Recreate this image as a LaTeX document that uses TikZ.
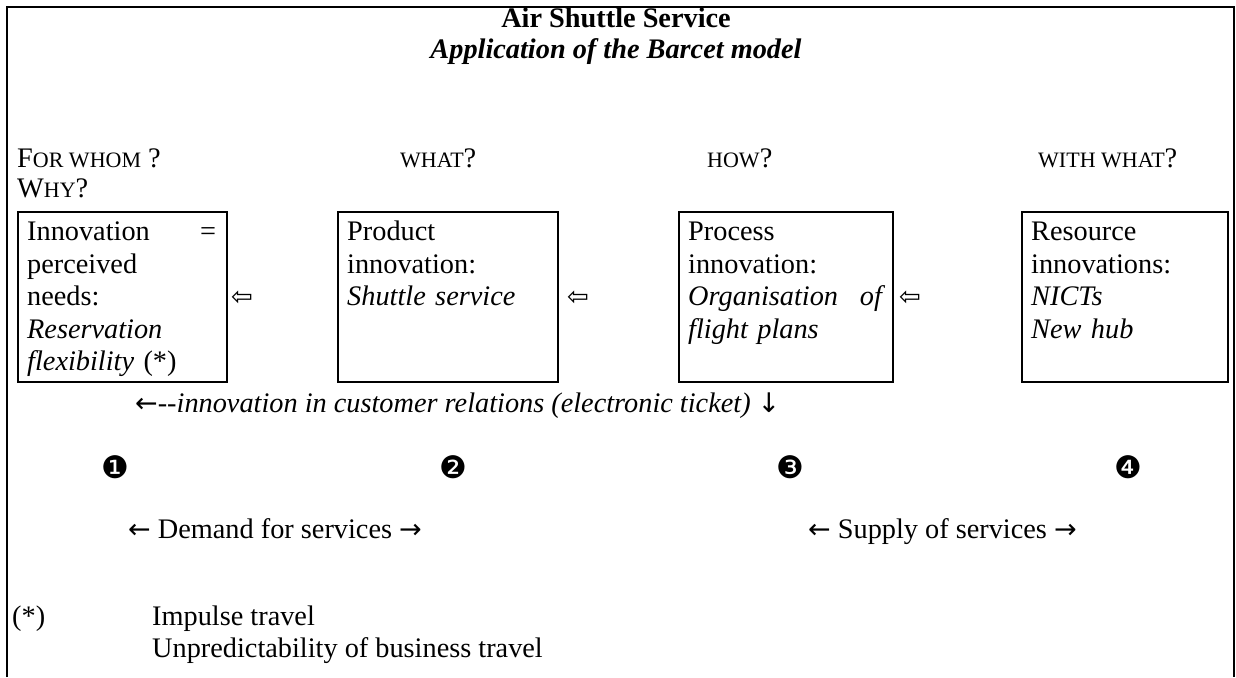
\documentclass[tikz,border=0pt]{standalone}
\usepackage{fontspec}
\setmainfont{Liberation Serif}
\newfontfamily\dejavu{DejaVu Sans}
\newcommand\sck[1]{{\fontsize{22}{26}\selectfont #1}}
\newcommand\arw[1]{{\dejavu\fontsize{27}{30}\selectfont #1}}
\begin{document}
\begin{tikzpicture}[x=1pt,y=-1pt,
  txt/.style={inner sep=0pt, anchor=base west, font=\fontsize{28.3}{32.5}\selectfont},
  multi/.style={inner sep=0pt, anchor=north west, align=left, text width=#1, font=\fontsize{28.3}{32.5}\selectfont},
  box/.style={draw, line width=1.6pt, anchor=north west, minimum width=#1, minimum height=170pt, inner sep=0pt},
  hollow/.style={inner sep=0pt, anchor=center, font=\dejavu\fontsize{26}{30}\selectfont},
  num/.style={inner sep=0pt, anchor=center, font=\dejavu\fontsize{31}{34}\selectfont}]
\useasboundingbox (0,0) rectangle (1236,677);
% frame
\draw[line width=2pt] (7,677) -- (7,7) -- (1234,7) -- (1234,677);
% title
\node[inner sep=0pt, anchor=base, font=\fontsize{28.3}{32.5}\selectfont\bfseries] (title) at (616,28) {Air Shuttle Service};
\node[inner sep=0pt, anchor=base, font=\fontsize{28.3}{32.5}\selectfont\bfseries\itshape] (subtitle) at (616,59) {Application of the Barcet model};
% headers
\node[txt] (h1) at (17,167) {F\sck{OR WHOM} ?};
\node[txt] (h1b) at (17,197) {W\sck{HY}?};
\node[txt] (h2) at (400,167) {\sck{WHAT}?};
\node[txt] (h3) at (707,167) {\sck{HOW}?};
\node[txt] (h4) at (1038,167) {\sck{WITH WHAT}?};
% boxes
\node[box=209pt] (b1) at (17,211) {};
\node[box=220pt] (b2) at (337,211) {};
\node[box=214pt] (b3) at (678,211) {};
\node[box=206pt] (b4) at (1021,211) {};
\node[multi=200pt] (t1) at (27,218) {\strut\makebox[189pt][s]{Innovation\hfill=}\\perceived\\needs:\\\textit{Reservation}\\\textit{flexibility} (*)};
\node[multi=205pt] (t2) at (347,218) {\strut Product\\innovation:\\\textit{Shuttle service}};
\node[multi=200pt] (t3) at (688,218) {\strut Process\\innovation:\\\makebox[197pt][s]{\textit{Organisation\hfill of}}\\\textit{flight plans}};
\node[multi=195pt] (t4) at (1031,218) {\strut Resource\\innovations:\\\textit{NICTs}\\\textit{New hub}};
% hollow arrows
\node[hollow] (a1) at (242,298) {⇦};
\node[hollow] (a2) at (578,298) {⇦};
\node[hollow] (a3) at (910,298) {⇦};
% customer relations
\node[txt] (cr) at (135,412) {\arw{←}\textit{-{}-innovation in customer relations (electronic ticket)} \arw{↓}};
% numbers
\node[num] (n1) at (115,467) {❶};
\node[num] (n2) at (453,467) {❷};
\node[num] (n3) at (790,467) {❸};
\node[num] (n4) at (1128,467) {❹};
% demand / supply
\node[txt] (dem) at (128,538) {\arw{←} Demand for services \arw{→}};
\node[txt] (sup) at (808,538) {\arw{←} Supply of services \arw{→}};
% footnote
\node[txt] (fstar) at (12,625) {(*)};
\node[txt] (f1) at (152,625) {Impulse travel};
\node[txt] (f2) at (152,657) {Unpredictability of business travel};
\end{tikzpicture}
\end{document}
